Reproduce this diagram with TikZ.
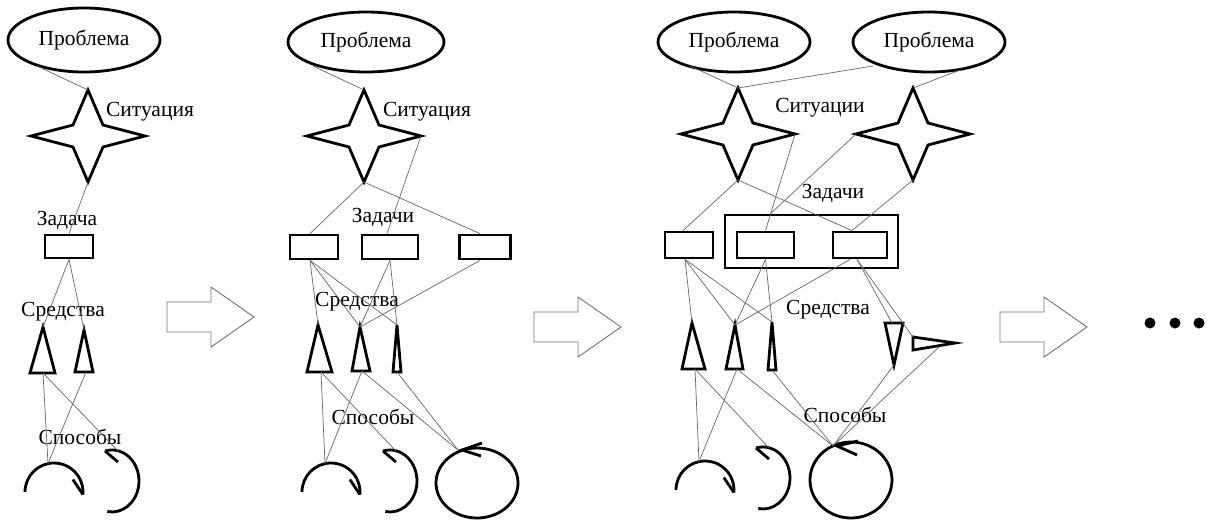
\documentclass[tikz,border=0pt]{standalone}
\usepackage{fontspec}
\setmainfont{Liberation Serif}
\usetikzlibrary{shapes.geometric,calc}
\begin{document}
\begin{tikzpicture}[x=1pt,y=-1pt,
  shp/.style={line width=2.8pt, line join=miter, draw=black},
  lnk/.style={line width=0.7pt, draw=black!60},
  lbl/.style={font=\fontsize{21.5}{24}\selectfont, inner sep=0pt},
  prob/.style={ellipse, draw, line width=2.8pt, inner sep=0pt, font=\fontsize{21.5}{24}\selectfont},
  task/.style={draw, line width=2.8pt, inner sep=0pt},
  blk/.style={draw=black!55, line width=0.9pt, line join=miter},
  dot/.style={circle, fill=black, inner sep=0pt, minimum size=11pt},
  star4/.pic={\draw[shp] (0,-46) -- (15,-11) -- (57,0) -- (15,11) -- (0,46) -- (-15,11) -- (-57,0) -- (-15,-11) -- cycle;
     \coordinate (-t) at (0,-46); \coordinate (-b) at (0,46); \coordinate (-l) at (-57,0); \coordinate (-r) at (57,0);},
  cwarc/.pic={\draw[shp] (-29,0) arc[start angle=180, end angle=365, radius=29] coordinate (-e);
     \draw[shp] (-e) -- ++(-10,-15);
     \coordinate (-top) at (-6,-28.5);},
  ccwarc/.pic={\draw[shp] (-4.7,30.5) arc[start angle=100, end angle=-105, x radius=27, y radius=31] coordinate (-e);
     \draw[shp] (-e) -- ++(13,11);
     \coordinate (-top) at (6,-30);},
  blockarrow/.pic={\draw[blk] (0,-15) -- (44,-15) -- (44,-30) -- (87,0) -- (44,30) -- (44,15) -- (0,15) -- cycle;}
]
\useasboundingbox (0,0) rectangle (1207,520);

% ================= Panel 1 =================
\node[prob, minimum width=152, minimum height=64] (P1) at (84,40) {Проблема};
\coordinate (P1a) at (37,66);
\pic (S1) at (88,136) {star4};
\node[lbl] (L1s) at (150,112) {Ситуация};
\node[lbl] (L1z) at (67,220) {Задача};
\node[task, minimum width=48, minimum height=23] (R1) at (69,246.5) {};
\node[lbl] (L1c) at (63,312) {Средства};
\draw[shp] (43,327) coordinate (T11a) -- (30,373) -- (55,373) -- cycle;
\coordinate (T11b) at (43,373);
\draw[shp] (84,330) coordinate (T12a) -- (75,372) -- (93,372) -- cycle;
\coordinate (T12b) at (86,372);
\node[lbl] (L1m) at (80,437) {Способы};
\pic (A11) at (54,492) {cwarc};
\pic (A12) at (112,481) {ccwarc};

\draw[lnk] (P1a) -- (S1-t);
\draw[lnk] (S1-b) -- (R1.north);
\draw[lnk] (R1.south) -- (T11a);
\draw[lnk] (R1.south) -- (T12a);
\draw[lnk] (T11b) -- (A11-top);
\draw[lnk] (T11b) -- (A12-top);
\draw[lnk] (T12b) -- (A11-top);

\pic (B1) at (167,317) {blockarrow};

% ================= Panel 2 =================
\node[prob, minimum width=156, minimum height=60] (P2) at (366,42) {Проблема};
\coordinate (P2a) at (313,66);
\pic (S2) at (364,136) {star4};
\node[lbl] (L2s) at (427,112) {Ситуация};
\node[lbl] (L2z) at (383,217) {Задачи};
\node[task, minimum width=48, minimum height=24] (R21) at (314,247) {};
\node[task, minimum width=56, minimum height=24] (R22) at (390,247) {};
\node[task, minimum width=51, minimum height=24] (R23) at (485,247) {};
\node[lbl] (L2c) at (357,302) {Средства};
\draw[shp] (318,325) coordinate (T21a) -- (307,372) -- (332,372) -- cycle;
\coordinate (T21b) at (321,372);
\draw[shp] (360,327) coordinate (T22a) -- (352,371) -- (370,371) -- cycle;
\coordinate (T22b) at (362,371);
\draw[shp] (397,325) coordinate (T23a) -- (393,372) -- (401,372) -- cycle;
\coordinate (T23b) at (397,372);
\node[lbl] (L2m) at (373,417) {Способы};
\pic (A21) at (331,492) {cwarc};
\pic (A22) at (390,481) {ccwarc};
\draw[shp] (477,483) ellipse[x radius=41, y radius=35];
\draw[shp] (482,443) -- (462,450) coordinate (C2tip) -- (481,456);
\coordinate (C2) at (458,450);

\draw[lnk] (P2a) -- (S2-t);
\draw[lnk] (S2-b) -- ($(R21.north)+(-4,0)$);
\draw[lnk] (S2-b) -- ($(R23.north)+(-5,0)$);
\draw[lnk] (S2-r) -- ($(R22.north)+(-3,0)$);
\draw[lnk] ($(R21.south)+(-4,0)$) -- (T21a);
\draw[lnk] ($(R21.south)+(-4,0)$) -- (T22a);
\draw[lnk] ($(R21.south)+(-4,0)$) -- (T23a);
\draw[lnk] (R22.south) -- (T22a);
\draw[lnk] (R22.south) -- (T23a);
\draw[lnk] ($(R23.south)+(-5,0)$) -- (T22a);
\draw[lnk] (T21b) -- (A21-top);
\draw[lnk] (T21b) -- (A22-top);
\draw[lnk] (T22b) -- (A21-top);
\draw[lnk] (T22b) -- (C2);
\draw[lnk] (T23b) -- (C2);

\pic (B2) at (534,327) {blockarrow};

% ================= Panel 3 =================
\node[prob, minimum width=152, minimum height=60] (P31) at (734,42) {Проблема};
\node[prob, minimum width=152, minimum height=60] (P32) at (929,42) {Проблема};
\coordinate (P31a) at (690,66);
\coordinate (P32a) at (873,66);
\coordinate (P32b) at (960,70);
\pic (S31) at (738,134) {star4};
\pic (S32) at (913,134) {star4};
\node[lbl] (L3s) at (820,108) {Ситуации};
\node[lbl] (L3z) at (833,193) {Задачи};
\node[task, minimum width=173, minimum height=53] (RB) at (811.5,241.5) {};
\node[task, minimum width=48, minimum height=26] (R31) at (689,245) {};
\node[task, minimum width=57, minimum height=26] (R32) at (765.5,245) {};
\node[task, minimum width=54, minimum height=26] (R33) at (860,245) {};
\node[lbl] (L3c) at (828,310) {Средства};
\draw[shp] (692,323) coordinate (T31a) -- (682,369) -- (705,369) -- cycle;
\coordinate (T31b) at (695,369);
\draw[shp] (735,325) coordinate (T32a) -- (726,369) -- (743,369) -- cycle;
\coordinate (T32b) at (737,369);
\draw[shp] (772,322) coordinate (T33a) -- (768,370) -- (776,370) -- cycle;
\coordinate (T33b) at (772,370);
\draw[shp] (885,323) -- (903,323) -- (894,365) coordinate (T34b) -- cycle;
\coordinate (T34a) at (892,323);
\draw[shp] (913,337) coordinate (T35a) -- (955,343) -- (913,350) -- cycle;
\coordinate (T35b) at (939,347);
\node[lbl] (L3m) at (845,415) {Способы};
\pic (A31) at (705,490) {cwarc};
\pic (A32) at (763,478) {ccwarc};
\draw[shp] (851,480) ellipse[x radius=41, y radius=38];
\draw[shp] (858,441) -- (837,446) coordinate (C3tip) -- (857,455);
\coordinate (C3) at (833,446);

\draw[lnk] (P31a) -- (S31-t);
\draw[lnk] (P32a) -- (S31-t);
\draw[lnk] (P32b) -- (S32-t);
\draw[lnk] (S31-b) -- ($(R31.north)+(-6,0)$);
\draw[lnk] (S31-b) -- ($(R33.north)+(-8,0)$);
\draw[lnk] (S31-r) -- (R32.north);
\draw[lnk] (S32-l) -- ($(RB.north)+(-41,0)$);
\draw[lnk] (S32-b) -- ($(R33.north)+(-8,0)$);
\draw[lnk] ($(R31.south)+(-4,0)$) -- (T31a);
\draw[lnk] ($(R31.south)+(-4,0)$) -- (T32a);
\draw[lnk] ($(R31.south)+(-4,0)$) -- (T33a);
\draw[lnk] (R32.south) -- (T32a);
\draw[lnk] (R32.south) -- (T33a);
\draw[lnk] ($(R33.south)+(-10,0)$) -- (T32a);
\draw[lnk] ($(R33.south)+(-3,0)$) -- (T34a);
\draw[lnk] ($(R33.south)+(-3,0)$) -- (T35a);
\draw[lnk] (T31b) -- (A31-top);
\draw[lnk] (T31b) -- (A32-top);
\draw[lnk] (T32b) -- (A31-top);
\draw[lnk] (T32b) -- (C3);
\draw[lnk] (T33b) -- (C3);
\draw[lnk] (T34b) -- (C3);
\draw[lnk] (T35b) -- (C3);

\pic (B3) at (1000,327) {blockarrow};

% ================= Ellipsis =================
\node[dot] (D1) at (1150,323) {};
\node[dot] (D2) at (1175,323) {};
\node[dot] (D3) at (1199,323) {};
\end{tikzpicture}
\end{document}
